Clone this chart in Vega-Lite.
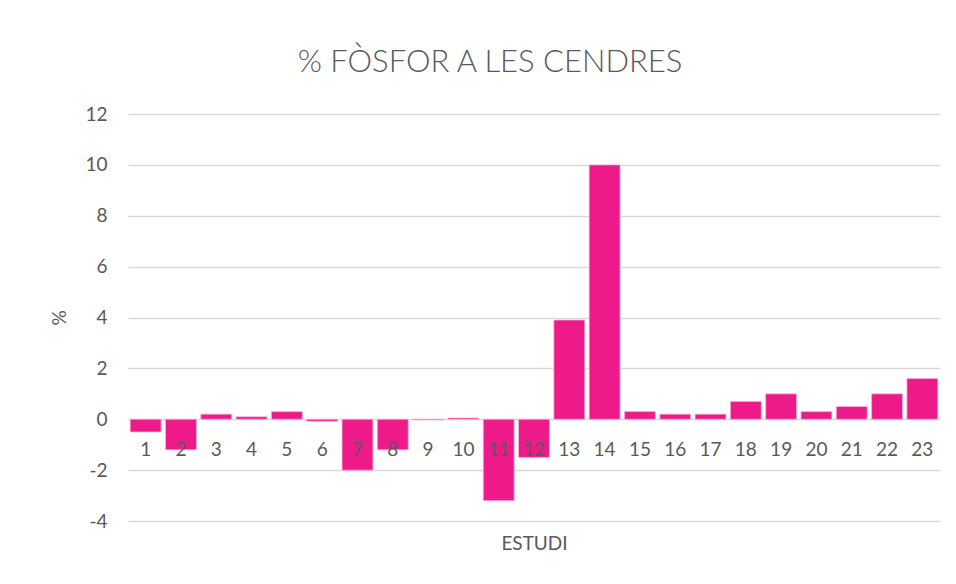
{
  "$schema": "https://vega.github.io/schema/vega-lite/v6.json",
  "width": 812,
  "height": 407,
  "autosize": {"type": "none"},
  "padding": {"left": 128, "top": 114, "right": 16, "bottom": 63},
  "background": "white",
  "title": {
    "text": "% FÒSFOR A LES CENDRES",
    "font": "Lato",
    "fontSize": 31,
    "fontWeight": 300,
    "color": "#595959",
    "anchor": "middle",
    "offset": 26,
    "dx": -44
  },
  "data": {
    "values": [
      {"estudi": "1", "valor": -0.5},
      {"estudi": "2", "valor": -1.2},
      {"estudi": "3", "valor": 0.2},
      {"estudi": "4", "valor": 0.1},
      {"estudi": "5", "valor": 0.3},
      {"estudi": "6", "valor": -0.08},
      {"estudi": "7", "valor": -2.0},
      {"estudi": "8", "valor": -1.2},
      {"estudi": "9", "valor": -0.03},
      {"estudi": "10", "valor": 0.05},
      {"estudi": "11", "valor": -3.2},
      {"estudi": "12", "valor": -1.5},
      {"estudi": "13", "valor": 3.9},
      {"estudi": "14", "valor": 10.0},
      {"estudi": "15", "valor": 0.3},
      {"estudi": "16", "valor": 0.2},
      {"estudi": "17", "valor": 0.2},
      {"estudi": "18", "valor": 0.7},
      {"estudi": "19", "valor": 1.0},
      {"estudi": "20", "valor": 0.3},
      {"estudi": "21", "valor": 0.5},
      {"estudi": "22", "valor": 1.0},
      {"estudi": "23", "valor": 1.6}
    ]
  },
  "encoding": {
    "x": {
      "field": "estudi",
      "type": "ordinal",
      "sort": null,
      "scale": {"paddingInner": 0.125, "paddingOuter": 0.0625},
      "axis": {
        "title": "ESTUDI",
        "labels": false,
        "ticks": false,
        "domain": false,
        "grid": false,
        "titleFont": "Lato",
        "titleFontSize": 19,
        "titleFontWeight": "normal",
        "titleColor": "#595959",
        "titlePadding": 13
      }
    }
  },
  "layer": [
    {
      "mark": {"type": "bar", "color": "#EE1A8A", "stroke": "#F7B4D6", "strokeWidth": 0.75},
      "encoding": {
        "y": {
          "field": "valor",
          "type": "quantitative",
          "scale": {"domain": [-4, 12], "nice": false, "zero": true},
          "axis": {
            "title": "%",
            "values": [-4, -2, 0, 2, 4, 6, 8, 10, 12],
            "labelExpr": "'' + datum.value",
            "domain": false,
            "ticks": false,
            "grid": true,
            "gridColor": "#D9D9D9",
            "gridWidth": 1.3,
            "labelFont": "Lato",
            "labelFontSize": 19,
            "labelColor": "#595959",
            "labelPadding": 21,
            "titleFont": "Lato",
            "titleFontSize": 19,
            "titleFontWeight": "normal",
            "titleColor": "#595959",
            "titlePadding": 15
          }
        }
      }
    },
    {
      "mark": {"type": "text", "font": "Lato", "fontSize": 19, "color": "#595959", "baseline": "middle", "dy": 31},
      "encoding": {
        "y": {"datum": 0},
        "text": {"field": "estudi"}
      }
    }
  ],
  "config": {
    "view": {"stroke": null}
  }
}
